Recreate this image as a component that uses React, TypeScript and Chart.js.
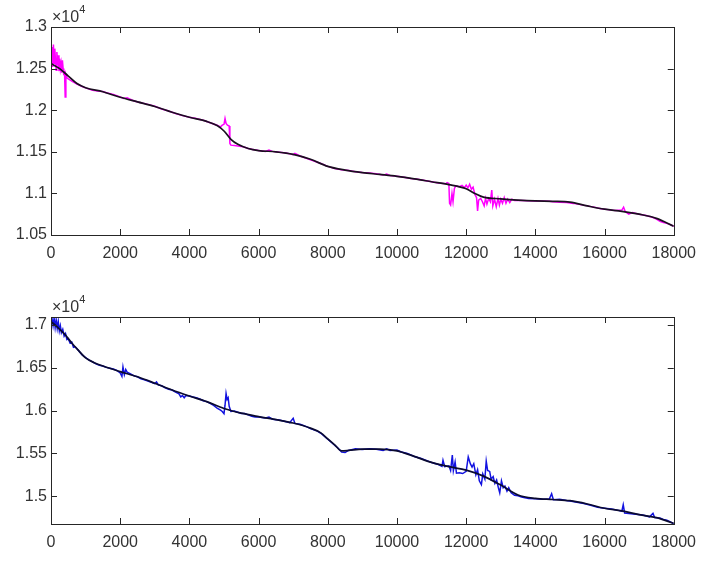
import React, { useEffect, useRef } from "react";
import { Chart, registerables } from "chart.js";

Chart.register(...registerables);

// ---- axes ----
const xTicks = [0, 2000, 4000, 6000, 8000, 10000, 12000, 14000, 16000, 18000];
const xMin = 0;
const xMax = 18000;

const topYTicks = [10500, 11000, 11500, 12000, 12500, 13000];
const topYMin = 10500;
const topYMax = 13000;

const bottomYTicks = [15000, 15500, 16000, 16500, 17000];
const bottomYMin = 14676;
const bottomYMax = 17093;

// ---- upper panel: raw signal (magenta) ----
const topRawX = [
  0, 30, 50, 70, 90, 110, 130, 150, 170, 190, 210, 230, 250, 270, 290, 310, 330, 350, 370, 390, 410, 430, 460, 500,
  600, 750, 900, 1000, 1200, 1400, 1500, 1600, 1800, 2000, 2100, 2200, 2400, 2600, 2800, 3000, 3200, 3400, 3600,
  3800, 4000, 4200, 4400, 4600, 4800, 4900, 4950, 5000, 5030, 5060, 5100, 5150, 5170, 5200, 5300, 5400, 5500, 5600,
  5700, 5800, 6000, 6200, 6300, 6400, 6600, 6800, 7000, 7050, 7200, 7400, 7600, 7800, 8000, 8200, 8400, 8600, 8800,
  9000, 9200, 9400, 9600, 9700, 9800, 10000, 10200, 10400, 10600, 10800, 11000, 11200, 11400, 11450,
  11500, 11520, 11550, 11590, 11620, 11660, 11700, 11800, 11880, 11950, 12000, 12050, 12100, 12150, 12200, 12250,
  12300, 12330, 12360, 12420, 12470, 12520, 12560, 12600, 12650, 12700, 12740, 12770, 12820, 12870, 12920, 12960,
  13000, 13050, 13100, 13150, 13200, 13260, 13320, 13400,
  13600, 13800, 14000, 14200, 14400, 14500, 14700, 14900, 15100, 15300, 15500, 15700, 15900, 16100, 16300, 16500,
  16550, 16600, 16700, 16800, 17000, 17200, 17400, 17500, 17600, 17700, 17800, 17900, 18000,
];
const topRawY = [
  12480, 12760, 12520, 12790, 12560, 12740, 12600, 12480, 12700, 12540, 12660, 12470, 12620, 12500, 12560, 12450,
  12600, 12500, 12420, 12470, 12160, 12430, 12390, 12375,
  12350, 12315, 12285, 12268, 12240, 12228, 12225, 12210, 12190, 12160, 12140, 12150, 12110, 12090, 12070, 12048,
  12015, 11990, 11960, 11935, 11915, 11900, 11880, 11850, 11820, 11800, 11820, 11830, 11900, 11840, 11820, 11810,
  11600, 11580, 11575, 11570, 11565, 11555, 11540, 11530, 11515, 11505, 11520, 11505, 11495, 11485, 11465, 11480,
  11450, 11420, 11390, 11360, 11325, 11300, 11285, 11275, 11260, 11250, 11245, 11235, 11220, 11232, 11215, 11205,
  11195, 11180, 11170, 11155, 11140, 11125, 11115, 11130,
  11120, 10880, 10860, 11000, 10900, 11060, 11090, 11080, 11095, 11070, 11100, 11065, 11110, 11050, 11075, 10990,
  10950, 10790, 10920, 10940, 10900, 10850, 10940, 10870, 10940, 10900, 11040, 10850, 10930, 10840, 10940, 10860,
  10930, 10880, 10950, 10880, 10930, 10890, 10930, 10915,
  10915, 10912, 10910, 10908, 10905, 10900, 10895, 10890, 10880, 10865, 10850, 10835, 10815, 10805, 10795, 10800,
  10835, 10780, 10750, 10770, 10750, 10735, 10710, 10690, 10665, 10650, 10640, 10625, 10605,
];

// ---- upper panel: smoothed trend (black) ----
const topTrendX = [
  0, 250, 500, 750, 1000, 1500, 2000, 2500, 3000, 3500, 4000, 4500, 4800, 5000, 5200, 5400, 5700, 6000, 6500, 7000,
  7500, 8000, 8500, 9000, 9500, 10000, 10500, 11000, 11500, 12000, 12250, 12500, 13000, 13500, 14000, 14500, 15000,
  15500, 16000, 16500, 17000, 17500, 18000,
];
const topTrendY = [
  12560, 12500, 12410, 12320, 12270, 12222, 12155, 12100, 12045, 11975, 11915, 11865, 11815, 11750, 11650, 11590,
  11540, 11515, 11500, 11470, 11410, 11325, 11280, 11250, 11228, 11205, 11175, 11140, 11105, 11055, 11000, 10955,
  10935, 10920, 10910, 10905, 10895, 10850, 10810, 10785, 10750, 10700, 10605,
];

// ---- lower panel: raw signal (blue) ----
const bottomRawX = [
  0, 30, 60, 90, 120, 150, 180, 210, 240, 270, 300, 340, 380, 420, 460, 500, 550, 600, 650, 700, 800, 900, 1000,
  1100, 1200, 1300, 1400, 1500, 1600, 1700, 1800, 1900, 2000, 2050, 2080, 2120, 2160, 2200, 2300, 2400, 2500, 2600,
  2700, 2800, 2900, 3000, 3050, 3100, 3200, 3300, 3400, 3500, 3600, 3700, 3750, 3800, 3850, 3900, 4000, 4100, 4200,
  4300, 4400, 4500, 4600, 4700, 4800, 4900, 4950, 5000, 5030, 5060, 5090, 5120, 5150, 5200, 5300, 5400, 5500, 5600,
  5700, 5800, 5900, 6000, 6200, 6300, 6400, 6600, 6800, 6900, 7000, 7050, 7200, 7400, 7500, 7600, 7700, 7800, 8000,
  8200, 8300, 8400, 8500, 8600, 8800, 9000, 9200, 9400, 9600, 9700, 9800, 10000, 10100, 10300, 10500, 10700, 10900,
  11000, 11200, 11300, 11330, 11380, 11500, 11550, 11600, 11630, 11680, 11720, 11800, 11900, 12000, 12060, 12120,
  12170, 12220, 12280, 12330, 12380, 12440, 12480, 12540, 12580, 12620, 12680, 12720, 12780, 12830, 12880, 12930,
  12970, 13020, 13070, 13120, 13180, 13230, 13300, 13400, 13500, 13600, 13800, 14000, 14200, 14400, 14470, 14520,
  14700, 14900, 15000, 15200, 15400, 15600, 15800, 16000, 16200, 16400, 16500, 16540, 16580, 16700, 16900, 17100,
  17300, 17400, 17450, 17600, 17700, 17800, 17900, 18000,
];
const bottomRawY = [
  17000, 17070, 16990, 17080, 16970, 17060, 16960, 17040, 16930, 16990, 16910, 16950, 16870, 16900, 16830, 16840,
  16790, 16800, 16740, 16745, 16700, 16650, 16620, 16590, 16570, 16545, 16530, 16520, 16505, 16495, 16485, 16470,
  16440, 16400, 16510, 16420, 16480, 16450, 16430, 16405, 16395, 16370, 16360, 16345, 16330, 16315, 16335, 16300,
  16290, 16265, 16250, 16240, 16215, 16195, 16160, 16175, 16150, 16175, 16170, 16160, 16150, 16135, 16115, 16105,
  16085, 16060, 16030, 16005, 15990, 15965, 16060, 16200, 16130, 16150, 16050, 15990, 15995, 15980, 15965, 15965,
  15950, 15935, 15925, 15925, 15915, 15925, 15900, 15890, 15870, 15860, 15910, 15850, 15840, 15810, 15790, 15775,
  15760, 15735, 15665, 15595, 15560, 15515, 15510, 15535, 15555, 15545, 15555, 15550, 15535, 15555, 15535, 15540,
  15520, 15500, 15465, 15440, 15410, 15395, 15370, 15350, 15420, 15345, 15355, 15300, 15480, 15300, 15400, 15270,
  15275, 15265, 15290, 15460, 15380, 15340, 15380, 15250, 15310, 15180, 15135, 15260, 15200, 15410, 15300, 15290,
  15200, 15230, 15150, 15190, 15100, 15040, 15180, 15100, 15120, 15060, 15100, 15040, 15010, 15005, 14990, 14975,
  14970, 14965, 14965, 15030, 14960, 14965, 14950, 14945, 14930, 14915, 14895, 14870, 14860, 14850, 14835, 14825,
  14900, 14805, 14800, 14790, 14780, 14760, 14800, 14750, 14745, 14730, 14720, 14700, 14680,
];

// ---- lower panel: smoothed trend (dark) ----
const bottomTrendX = [
  0, 200, 400, 600, 800, 1000, 1250, 1500, 2000, 2500, 3000, 3500, 4000, 4500, 5000, 5500, 6000, 6500, 7000, 7500,
  7800, 8000, 8200, 8400, 8600, 9000, 9500, 10000, 10500, 11000, 11500, 12000, 12500, 13000, 13500, 14000, 14500,
  15000, 15500, 16000, 16500, 17000, 17500, 18000,
];
const bottomTrendY = [
  17040, 16970, 16890, 16790, 16700, 16615, 16560, 16520, 16455, 16395, 16320, 16240, 16170, 16105, 16025, 15970,
  15930, 15895, 15855, 15795, 15740, 15670, 15600, 15530, 15535, 15550, 15550, 15530, 15465, 15395, 15345, 15305,
  15235, 15130, 15015, 14975, 14962, 14948, 14910, 14860, 14830, 14785, 14750, 14684,
];

const FONT_FAMILY = '"Liberation Sans", Arial, Helvetica, sans-serif';
const TEXT_COLOR = "#333333";
const FRAME_COLOR = "#262626";

const toPoints = (xs: number[], ys: number[]) => xs.map((x, i) => ({ x, y: ys[i] }));

// Box outline, inward ticks on all four sides and the ×10^4 exponent marker
const makeFramePlugin = (yTicks: number[]) => ({
  id: "frameAndExponent",
  afterDraw(chart: any) {
    const { ctx, chartArea: a, scales } = chart;
    const len = 6;
    ctx.save();
    ctx.strokeStyle = FRAME_COLOR;
    ctx.lineWidth = 1;
    ctx.beginPath();
    for (const v of xTicks) {
      const px = Math.round(scales.x.getPixelForValue(v)) + 0.5;
      ctx.moveTo(px, a.bottom);
      ctx.lineTo(px, a.bottom - len);
      ctx.moveTo(px, a.top);
      ctx.lineTo(px, a.top + len);
    }
    for (const v of yTicks) {
      const py = Math.round(scales.y.getPixelForValue(v)) + 0.5;
      ctx.moveTo(a.left, py);
      ctx.lineTo(a.left + len, py);
      ctx.moveTo(a.right, py);
      ctx.lineTo(a.right - len, py);
    }
    ctx.stroke();
    ctx.strokeRect(Math.round(a.left) + 0.5, Math.round(a.top) + 0.5, Math.round(a.right - a.left), Math.round(a.bottom - a.top));

    ctx.fillStyle = TEXT_COLOR;
    ctx.textBaseline = "alphabetic";
    ctx.textAlign = "left";
    ctx.font = `16px ${FONT_FAMILY}`;
    const base = "\u00d710";
    ctx.fillText(base, a.left + 1, a.top - 5);
    const w = ctx.measureText(base).width;
    ctx.font = `11px ${FONT_FAMILY}`;
    ctx.fillText("4", a.left + 1 + w, a.top - 14);
    ctx.restore();
  },
});

type PanelProps = {
  rawX: number[];
  rawY: number[];
  trendX: number[];
  trendY: number[];
  rawColor: string;
  trendColor: string;
  yMin: number;
  yMax: number;
  yTicks: number[];
  height: number;
  padTop: number;
  xAxisHeight: number;
};

function Panel(p: PanelProps) {
  const ref = useRef<HTMLCanvasElement | null>(null);

  useEffect(() => {
    if (!ref.current) return;
    const tickFont = { family: FONT_FAMILY, size: 16 };
    const chart = new Chart(ref.current, {
      type: "line",
      data: {
        datasets: [
          {
            data: toPoints(p.trendX, p.trendY),
            borderColor: p.trendColor,
            borderWidth: 1.7,
            pointRadius: 0,
            fill: false,
            cubicInterpolationMode: "monotone",
          },
          {
            data: toPoints(p.rawX, p.rawY),
            borderColor: p.rawColor,
            borderWidth: 1.5,
            pointRadius: 0,
            fill: false,
            tension: 0,
          },
        ],
      },
      options: {
        responsive: false,
        animation: false,
        events: [],
        layout: { padding: { left: 0, right: 25, top: p.padTop, bottom: 0 } },
        plugins: { legend: { display: false }, tooltip: { enabled: false } },
        scales: {
          x: {
            type: "linear",
            min: xMin,
            max: xMax,
            grid: { display: false, drawTicks: false },
            border: { display: false },
            ticks: {
              font: tickFont,
              color: TEXT_COLOR,
              padding: 9,
              maxRotation: 0,
              autoSkip: false,
              callback: (v: any) => String(v),
            },
            afterBuildTicks: (s: any) => {
              s.ticks = xTicks.map((v) => ({ value: v }));
            },
            afterFit: (s: any) => {
              s.height = p.xAxisHeight;
            },
          },
          y: {
            type: "linear",
            min: p.yMin,
            max: p.yMax,
            grid: { display: false, drawTicks: false },
            border: { display: false },
            ticks: {
              font: tickFont,
              color: TEXT_COLOR,
              padding: 4,
              autoSkip: false,
              callback: (v: any) => String(Number((Number(v) / 10000).toFixed(2))),
            },
            afterBuildTicks: (s: any) => {
              s.ticks = p.yTicks.map((v) => ({ value: v }));
            },
            afterFit: (s: any) => {
              s.width = 51;
            },
          },
        },
      },
      plugins: [makeFramePlugin(p.yTicks)],
    } as any);
    return () => chart.destroy();
  }, []);

  return <canvas ref={ref} width={705} height={p.height} style={{ display: "block", width: 705, height: p.height }} />;
}

export default function App() {
  return (
    <div style={{ position: "absolute", left: 0, top: 0, width: 705, height: 563, background: "#ffffff" }}>
      <Panel
        rawX={topRawX}
        rawY={topRawY}
        trendX={topTrendX}
        trendY={topTrendY}
        rawColor="#ff00ff"
        trendColor="#1a0f1f"
        yMin={topYMin}
        yMax={topYMax}
        yTicks={topYTicks}
        height={280}
        padTop={27}
        xAxisHeight={45}
      />
      <Panel
        rawX={bottomRawX}
        rawY={bottomRawY}
        trendX={bottomTrendX}
        trendY={bottomTrendY}
        rawColor="#1212e0"
        trendColor="#0a0a30"
        yMin={bottomYMin}
        yMax={bottomYMax}
        yTicks={bottomYTicks}
        height={283}
        padTop={37}
        xAxisHeight={39}
      />
    </div>
  );
}
